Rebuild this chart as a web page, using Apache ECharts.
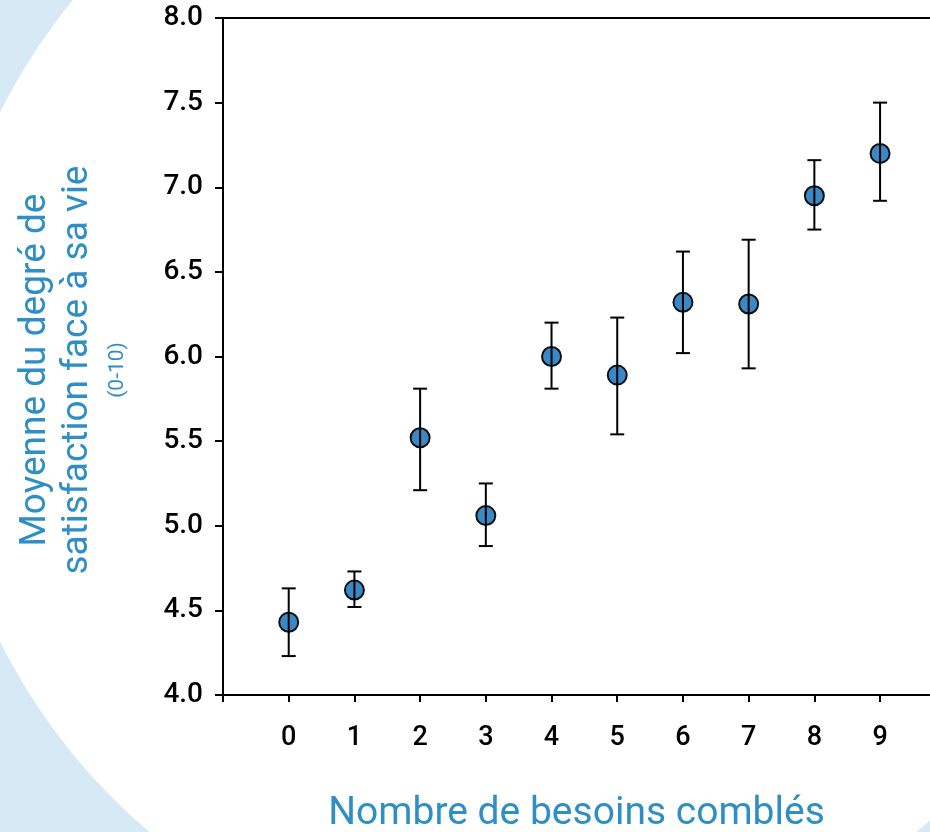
<!DOCTYPE html>
<html>
<head>
<meta charset="utf-8">
<script src="https://cdn.jsdelivr.net/npm/echarts@6/dist/echarts.min.js"></script>
<style>
  html, body { margin: 0; padding: 0; background: #fff; }
  #main { width: 930px; height: 832px; }
</style>
</head>
<body>
<div id="main"></div>
<script>
// nombre de besoins comblés
const besoins = [0, 1, 2, 3, 4, 5, 6, 7, 8, 9];
// moyenne et intervalle
const moyennes = [4.43, 4.62, 5.52, 5.06, 6.00, 5.89, 6.32, 6.31, 6.95, 7.20];
const hauts = [4.63, 4.73, 5.81, 5.25, 6.20, 6.23, 6.62, 6.69, 7.16, 7.50];
const bas = [4.23, 4.52, 5.21, 4.88, 5.81, 5.54, 6.02, 5.93, 6.75, 6.92];
const ticksX = [-1, 0, 1, 2, 3, 4, 5, 6, 7, 8, 9];

const bleu = '#2f8fc4';

const chart = echarts.init(document.getElementById('main'));

const points = besoins.map((b, i) => [b, moyennes[i]]);
const barres = besoins.map((b, i) => [b, bas[i], hauts[i]]);

// barre d'erreur avec petits chapeaux
const drawErr = (params, api) => {
    const x = api.value(0);
    const top = api.coord([x, api.value(2)]);
    const bot = api.coord([x, api.value(1)]);
    const w = 7;
    const st = { stroke: '#000', lineWidth: 2 };
    return {
        type: 'group',
        children: [
            { type: 'line', shape: { x1: top[0], y1: top[1], x2: bot[0], y2: bot[1] }, style: st },
            { type: 'line', shape: { x1: top[0] - w, y1: top[1], x2: top[0] + w, y2: top[1] }, style: st },
            { type: 'line', shape: { x1: bot[0] - w, y1: bot[1], x2: bot[0] + w, y2: bot[1] }, style: st }
        ]
    };
};

const option = {
    backgroundColor: '#d7e9f4',
    animation: false,
    graphic: [
        { type: 'circle', z: -10, shape: { cx: 533, cy: 377, r: 595 }, style: { fill: '#ffffff' } },
        { type: 'text', x: 36, y: 370, rotation: Math.PI / 2, z: 10,
          style: { text: 'Moyenne du degré de', fill: bleu, font: '37px Roboto', align: 'center', verticalAlign: 'middle' } },
        { type: 'text', x: 78, y: 370, rotation: Math.PI / 2, z: 10,
          style: { text: 'satisfaction face à sa vie', fill: bleu, font: '37px Roboto', align: 'center', verticalAlign: 'middle' } },
        { type: 'text', x: 118, y: 370, rotation: Math.PI / 2, z: 10,
          style: { text: '(0-10)', fill: bleu, font: '21px Roboto', align: 'center', verticalAlign: 'middle' } }
    ],
    grid: { left: 223, right: 0, top: 18, bottom: 137, containLabel: false, outerBoundsMode: 'none' },
    xAxis: [
        {
            type: 'value', position: 'bottom', min: -1, max: 9.76,
            name: 'Nombre de besoins comblés', nameLocation: 'middle', nameGap: 100,
            nameTextStyle: { color: bleu, fontSize: 39, fontFamily: 'Roboto' },
            axisLine: { onZero: false, lineStyle: { color: '#000', width: 2 } },
            axisTick: { length: 7, customValues: ticksX, lineStyle: { color: '#000', width: 2 } },
            axisLabel: { customValues: besoins, margin: 30, color: '#000', fontSize: 27, fontFamily: 'Roboto', fontWeight: 500 },
            splitLine: { show: false }
        },
        {
            type: 'value', position: 'top', min: -1, max: 9.76,
            axisLine: { show: true, onZero: false, lineStyle: { color: '#000', width: 2 } },
            axisTick: { show: false }, axisLabel: { show: false }, splitLine: { show: false }
        }
    ],
    yAxis: {
        type: 'value', min: 4, max: 8, interval: 0.5,
        axisLine: { show: true, onZero: false, lineStyle: { color: '#000', width: 2 } },
        axisTick: { show: true, length: 8, lineStyle: { color: '#000', width: 2 } },
        axisLabel: { margin: 20, color: '#000', fontSize: 28, fontFamily: 'Roboto', fontWeight: 500,
                     formatter: v => v.toFixed(1) },
        splitLine: { show: false }
    },
    series: [
        {
            type: 'scatter', data: points, symbol: 'circle', symbolSize: 19, z: 2,
            itemStyle: { color: '#3a88c5', borderColor: '#111', borderWidth: 2, opacity: 1 }
        },
        {
            type: 'custom', data: barres, renderItem: drawErr, z: 5,
            encode: { x: 0, y: [1, 2] }
        }
    ]
};

chart.setOption(option);
</script>
</body>
</html>
